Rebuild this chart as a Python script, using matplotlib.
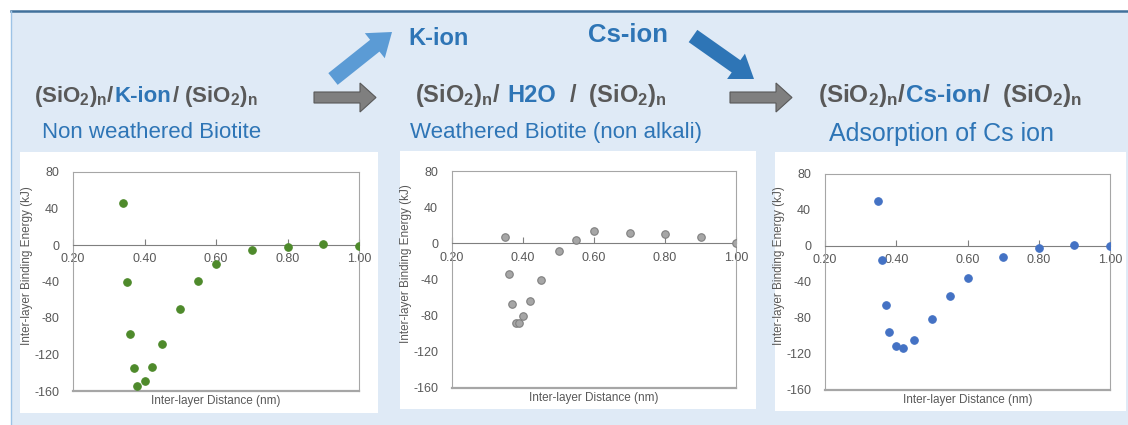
import matplotlib
matplotlib.use("Agg")
import matplotlib.pyplot as plt
from matplotlib.patches import Rectangle, FancyArrow
from matplotlib.ticker import FormatStrFormatter

plt.rcParams["font.family"] = ["Liberation Sans", "DejaVu Sans"]
plt.rcParams["mathtext.fontset"] = "custom"
plt.rcParams["mathtext.rm"] = "Liberation Sans:bold"
plt.rcParams["mathtext.it"] = "Liberation Sans:bold"
plt.rcParams["axes.unicode_minus"] = False

# binding energy (kJ) vs inter-layer distance (nm)
k_x = [0.34, 0.35, 0.36, 0.37, 0.38, 0.40, 0.42, 0.45, 0.50, 0.55, 0.60, 0.70, 0.80, 0.90, 1.00]
k_e = [46, -41, -97, -135, -154, -149, -134, -109, -70, -39, -21, -5, -2, 1, -1]

h2o_x = [0.35, 0.36, 0.37, 0.38, 0.39, 0.40, 0.42, 0.45, 0.50, 0.55, 0.60, 0.70, 0.80, 0.90, 1.00]
h2o_e = [7, -34, -67, -88, -88, -80, -64, -41, -8, 4, 14, 11, 10, 7, 0]

cs_x = [0.35, 0.36, 0.37, 0.38, 0.40, 0.42, 0.45, 0.50, 0.55, 0.60, 0.70, 0.80, 0.90, 1.00]
cs_e = [50, -16, -65, -96, -111, -113, -104, -81, -56, -36, -12, -2, 1, 0]

x_ticks = [0.2, 0.4, 0.6, 0.8, 1.0]
y_ticks = [-160, -120, -80, -40, 0, 40, 80]

SIO2 = r"(SiO$_\mathrm{2}$)$_\mathrm{n}$"
GRAY = "#595959"
BLUE = "#2e75b6"

W, H = 1128, 425
fig = plt.figure(figsize=(W / 100, H / 100), dpi=100)

# background axes in pixel units (y down)
bg = fig.add_axes([0, 0, 1, 1])
bg.set_xlim(0, W)
bg.set_ylim(H, 0)
bg.axis("off")
bg.add_patch(Rectangle((11, 11), W - 11, H - 11, fc="#dfeaf6", ec="none"))
bg.plot([11, W], [11, 11], color="#41719c", lw=1.8)
bg.plot([11, 11], [11, H], color="#9dc3e6", lw=1)

for x0, y0, x1, y1 in [(20, 152, 378, 413), (400, 151, 756, 409), (775, 152, 1126, 411)]:
    bg.add_patch(Rectangle((x0, y0), x1 - x0, y1 - y0, fc="white", ec="none"))

# arrows
bg.add_patch(FancyArrow(333, 79, 59, -47, width=15, head_width=32, head_length=22,
                        length_includes_head=True, fc="#5b9bd5", ec="none"))
bg.add_patch(FancyArrow(693, 36, 61, 43, width=15, head_width=31, head_length=22,
                        length_includes_head=True, fc=BLUE, ec="none"))
for xa in [314, 730]:
    bg.add_patch(FancyArrow(xa, 97.5, 62, 0, width=11, head_width=29, head_length=16,
                            length_includes_head=True, fc="#7f7f7f", ec="#595959", lw=0.8))

renderer = fig.canvas.get_renderer()


def rainbow(x, y, parts, size=16):
    for s, c in parts:
        t = bg.text(x, y, s, color=c, fontsize=size, fontweight="bold", va="baseline", ha="left")
        x += t.get_window_extent(renderer).width


rainbow(34, 102, [(SIO2 + "/", GRAY), ("K-ion", BLUE), ("/ " + SIO2, GRAY)], 16)
rainbow(415, 102, [(SIO2 + "/  ", GRAY), ("H2O", BLUE), ("  /  " + SIO2, GRAY)], 17)
rainbow(818, 102, [(SIO2 + "/", GRAY), ("Cs-ion", BLUE), ("/  " + SIO2, GRAY)], 17.5)

bg.text(408, 45, "K-ion", color=BLUE, fontsize=17, fontweight="bold", va="baseline")
bg.text(588, 42, "Cs-ion", color=BLUE, fontsize=18.5, fontweight="bold", va="baseline")

bg.text(42, 138, "Non weathered Biotite", color=BLUE, fontsize=16, va="baseline")
bg.text(410, 138, "Weathered Biotite (non alkali)", color=BLUE, fontsize=16, va="baseline")
bg.text(829, 141, "Adsorption of Cs ion", color=BLUE, fontsize=18, va="baseline")


def px_rect(x0, y0, x1, y1):
    return [x0 / W, 1 - y1 / H, (x1 - x0) / W, (y1 - y0) / H]


panels = [
    ((73, 172, 359, 391), k_x, k_e, dict(color="#4e8a2b", mec="#4e8a2b")),
    ((452, 171, 736, 388), h2o_x, h2o_e, dict(color="#a6a6a6", mec="#7f7f7f")),
    ((825, 174, 1110, 390), cs_x, cs_e, dict(color="#4472c4", mec="#4472c4")),
]

for rect, xs, ys, style in panels:
    ax = fig.add_axes(px_rect(*rect))
    ax.plot(xs, ys, "o", ms=5.4, mew=0.8, ls="none", zorder=3, **style)
    ax.set_xlim(0.2, 1.0)
    ax.set_ylim(-160, 80)
    ax.set_xticks(x_ticks)
    ax.set_yticks(y_ticks)
    ax.xaxis.set_major_formatter(FormatStrFormatter("%.2f"))
    for s in ["left", "top", "right"]:
        ax.spines[s].set_color("#a6a6a6")
    ax.spines["bottom"].set_position(("data", 0))
    ax.spines["bottom"].set_color("#7f7f7f")
    ax.axhline(-160, color="#a6a6a6", lw=1.6, clip_on=False)
    ax.tick_params(axis="x", direction="in", length=4, color="#7f7f7f", pad=6,
                   labelsize=9, labelcolor=GRAY)
    ax.tick_params(axis="y", length=0, pad=10, labelsize=9, labelcolor=GRAY)
    ax.set_xlabel("Inter-layer Distance (nm)", fontsize=8.5, color=GRAY)
    ax.xaxis.set_label_coords(0.5, -0.02)
    ax.set_ylabel("Inter-layer Binding Energy (kJ)", fontsize=8.5, color=GRAY)
    ax.yaxis.set_label_coords(-0.14, 0.575)

fig.savefig("out.png", dpi=100)
